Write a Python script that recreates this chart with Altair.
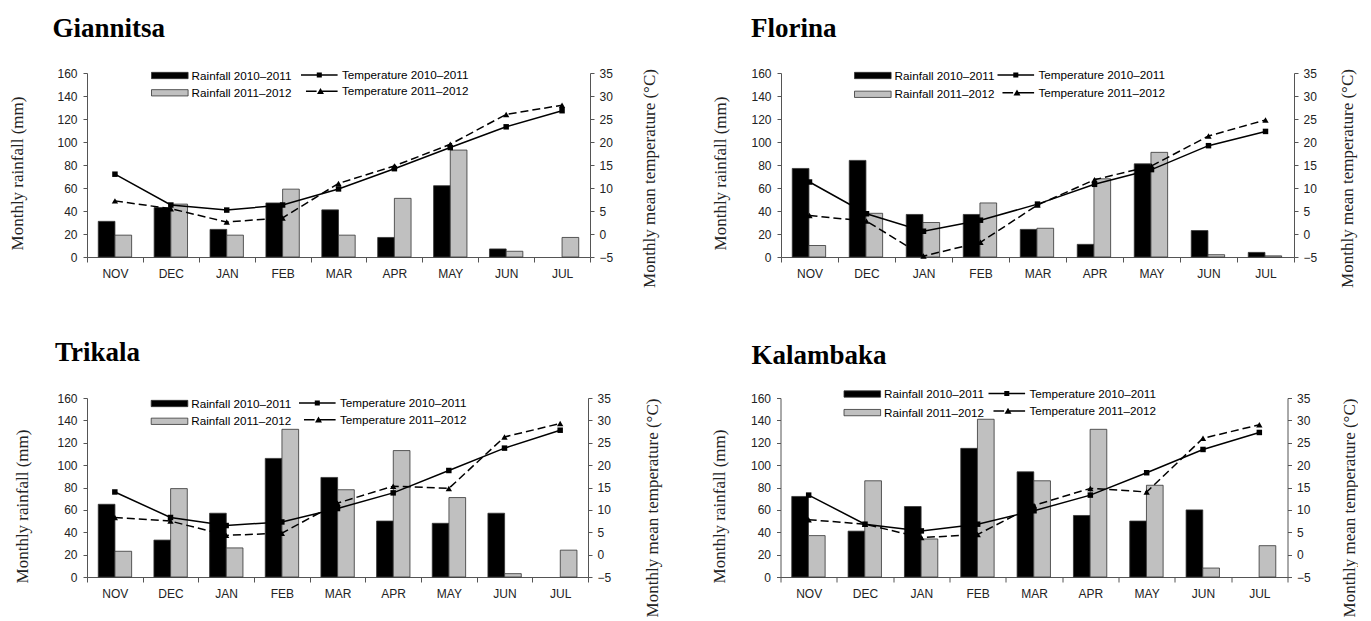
import altair as alt
import pandas as pd

MONTHS = ["NOV", "DEC", "JAN", "FEB", "MAR", "APR", "MAY", "JUN", "JUL"]
RAIN_SERIES = ["Rainfall 2010–2011", "Rainfall 2011–2012"]
TEMP_SERIES = ["Temperature 2010–2011", "Temperature 2011–2012"]

GIANNITSA_RAIN_1011 = [31, 43, 24, 47, 41, 17, 62, 7, 0]
GIANNITSA_RAIN_1112 = [19, 46, 19, 59, 19, 51, 93, 5, 17]
GIANNITSA_TEMP_1011 = [13.0, 6.3, 5.2, 6.3, 9.8, 14.2, 18.8, 23.3, 26.8]
GIANNITSA_TEMP_1112 = [7.2, 5.5, 2.6, 3.5, 11.0, 14.8, 19.5, 26.0, 28.0]

FLORINA_RAIN_1011 = [77, 84, 37, 37, 24, 11, 81, 23, 4]
FLORINA_RAIN_1112 = [10, 38, 30, 47, 25, 68, 91, 2, 1]
FLORINA_TEMP_1011 = [11.3, 4.4, 0.6, 3.0, 6.5, 10.8, 14.0, 19.2, 22.3]
FLORINA_TEMP_1112 = [4.0, 2.8, -4.8, -1.8, 6.3, 11.8, 14.8, 21.3, 24.8]

TRIKALA_RAIN_1011 = [65, 33, 57, 106, 89, 50, 48, 57, 0]
TRIKALA_RAIN_1112 = [23, 79, 26, 132, 78, 113, 71, 3, 24]
TRIKALA_TEMP_1011 = [14.0, 8.3, 6.5, 7.3, 10.3, 13.8, 18.8, 23.8, 27.8]
TRIKALA_TEMP_1112 = [8.3, 7.5, 4.3, 4.8, 11.5, 15.3, 14.8, 26.3, 29.3]

KALAMBAKA_RAIN_1011 = [72, 41, 63, 115, 94, 55, 50, 60, 0]
KALAMBAKA_RAIN_1112 = [37, 86, 34, 141, 86, 132, 82, 8, 28]
KALAMBAKA_TEMP_1011 = [13.3, 6.8, 5.3, 6.8, 9.8, 13.3, 18.3, 23.5, 27.3]
KALAMBAKA_TEMP_1112 = [7.8, 6.8, 3.8, 4.5, 11.0, 14.8, 14.0, 26.0, 29.0]

RAIN_TICKS = [0, 20, 40, 60, 80, 100, 120, 140, 160]
TEMP_TICKS = [-5, 0, 5, 10, 15, 20, 25, 30, 35]

SANS = "Liberation Sans"
SERIF = "Liberation Serif"
LEG_FS = 11.7

# legend symbols (fill-only paths): unit = 6 px (symbolSize 144), drawn 36.6 px wide
SWATCH = "M-1,-0.525H5.1V0.525H-1Z"
SYM_T1 = "M-1,-0.125H5.1V0.125H-1Z M1.63,-0.42H2.47V0.42H1.63Z"
SYM_T2 = ("M-0.17,-0.125H1.6V0.125H-0.17Z M2.25,-0.125H5.1V0.125H2.25Z "
          "M2.25,-0.55L2.83,0.45H1.67Z")


def panel(name, r1, r2, t1, t2, L):
    rain = pd.DataFrame({
        "month": MONTHS * 2,
        "series": [RAIN_SERIES[0]] * len(MONTHS) + [RAIN_SERIES[1]] * len(MONTHS),
        "rain": r1 + r2,
    })
    temp = pd.DataFrame({
        "month": MONTHS * 2,
        "series": [TEMP_SERIES[0]] * len(MONTHS) + [TEMP_SERIES[1]] * len(MONTHS),
        "temp": t1 + t2,
    })

    xaxis = alt.Axis(title=None, labelAngle=0, tickBand="extent", tickSize=5,
                     labelPadding=6, labelFontSize=12, labelFont=SANS, labelColor="#222",
                     grid=False, domainColor="#555", tickColor="#555")
    x = alt.X("month:N", sort=MONTHS,
              scale=alt.Scale(paddingInner=0, paddingOuter=0), axis=xaxis)

    yrain = alt.Y("rain:Q", scale=alt.Scale(domain=[0, 160], nice=False, zero=True),
                  axis=alt.Axis(values=RAIN_TICKS, title="Monthly rainfall (mm)",
                                tickSize=4, labelPadding=6, grid=False,
                                domainColor="#555", tickColor="#555",
                                labelFont=SANS, labelFontSize=12, labelColor="#222",
                                titleFont=SERIF, titleFontSize=17, titleFontWeight="normal",
                                titleColor="#222",
                                titleX=L["ltx"], titleY=L["lty"], titleAngle=270,
                                titleBaseline="bottom", titleAlign="center"))
    bars = alt.Chart(rain).transform_filter("datum.rain > 0").mark_bar(
        stroke="#333", strokeWidth=0.8).encode(
        x=x,
        xOffset=alt.XOffset("series:N", sort=RAIN_SERIES,
                            scale=alt.Scale(domain=RAIN_SERIES, paddingInner=0, paddingOuter=0.675)),
        y=yrain,
        fill=alt.Fill("series:N",
                      scale=alt.Scale(domain=RAIN_SERIES, range=["#000000", "#c0c0c0"]),
                      legend=alt.Legend(title=None, orient="none", legendX=L["rx"], legendY=L["ly"],
                                        direction="vertical", padding=0, rowPadding=L["rp"],
                                        symbolType=SWATCH, symbolSize=144,
                                        symbolStrokeColor="#333", symbolStrokeWidth=0.8,
                                        labelOffset=27.6, labelFont=SANS, labelFontSize=LEG_FS,
                                        labelColor="#000", labelLimit=300)),
    )

    taxis = alt.Axis(orient="right", values=TEMP_TICKS, title="Monthly mean temperature (°C)",
                     tickSize=4, labelPadding=5, grid=False,
                     domainColor="#555", tickColor="#555",
                     labelFont=SANS, labelFontSize=12, labelColor="#222",
                     titleFont=SERIF, titleFontSize=17, titleFontWeight="normal",
                     titleColor="#222",
                     titleX=L["rtx"], titleY=L["rty"], titleAngle=270,
                     titleBaseline="bottom", titleAlign="center")
    ty = alt.Y("temp:Q", scale=alt.Scale(domain=[-5, 35], nice=False, zero=False), axis=taxis)

    base = alt.Chart(temp)
    s1 = base.transform_filter(alt.datum.series == TEMP_SERIES[0])
    s2 = base.transform_filter(alt.datum.series == TEMP_SERIES[1])
    l1 = s1.mark_line(color="black", strokeWidth=1.5).encode(x=x, y=ty)
    l2 = s2.mark_line(color="black", strokeWidth=1.5, strokeDash=[8, 4]).encode(x=x, y=ty)
    p1 = s1.mark_square(color="black", size=30, opacity=1).encode(x=x, y=ty)
    p2 = s2.mark_point(shape="triangle-up", filled=True, color="black", size=40,
                       opacity=1).encode(x=x, y=ty)
    leg = base.transform_filter("datum.temp > 1000").mark_point(
        filled=True, color="black", strokeWidth=0).encode(
        x=x, y=ty,
        shape=alt.Shape("series:N",
                        scale=alt.Scale(domain=TEMP_SERIES, range=[SYM_T1, SYM_T2]),
                        legend=alt.Legend(title=None, orient="none", legendX=L["tx"], legendY=L["ly"],
                                          direction="vertical", padding=0, rowPadding=L["rp"],
                                          symbolSize=144, symbolFillColor="black",
                                          symbolStrokeWidth=0,
                                          symbolOpacity=1, labelOffset=29, labelFont=SANS,
                                          labelFontSize=LEG_FS, labelColor="#000", labelLimit=300)),
    )
    temps = alt.layer(l1, l2, p1, p2, leg)

    return alt.layer(bars, temps).resolve_scale(y="independent").properties(
        width=L["w"], height=L["h"],
        title=alt.TitleParams(text=name, anchor="start", frame="group", dx=L["tdx"],
                              offset=L["toff"], font=SERIF, fontSize=27, fontWeight="bold",
                              color="black", baseline="alphabetic"),
    )


G = panel("Giannitsa", GIANNITSA_RAIN_1011, GIANNITSA_RAIN_1112,
          GIANNITSA_TEMP_1011, GIANNITSA_TEMP_1112,
          dict(w=503, h=184, tdx=-34.5, toff=3.5, ltx=-61, lty=100, rtx=68, rty=105,
               rx=64, tx=214, ly=-4, rp=3.3))
F = panel("Florina", FLORINA_RAIN_1011, FLORINA_RAIN_1112,
          FLORINA_TEMP_1011, FLORINA_TEMP_1112,
          dict(w=513, h=184, tdx=-30, toff=3.5, ltx=-52, lty=100, rtx=62, rty=105,
               rx=73, tx=216.5, ly=-4, rp=4.8))
T = panel("Trikala", TRIKALA_RAIN_1011, TRIKALA_RAIN_1112,
          TRIKALA_TEMP_1011, TRIKALA_TEMP_1112,
          dict(w=501, h=179, tdx=-32, toff=4.5, ltx=-55.5, lty=108, rtx=73, rty=109.5,
               rx=63.7, tx=212, ly=-1, rp=3.8))
K = panel("Kalambaka", KALAMBAKA_RAIN_1011, KALAMBAKA_RAIN_1112,
          KALAMBAKA_TEMP_1011, KALAMBAKA_TEMP_1112,
          dict(w=507, h=179, tdx=-29, toff=-3.5, ltx=-52, lty=108, rtx=71, rty=109.5,
               rx=63, tx=208, ly=-10.5, rp=4.6))

IND_SCALE = dict(x="independent", y="independent", fill="independent", shape="independent")
IND_LEG = dict(fill="independent", shape="independent")

top = alt.hconcat(G, F, spacing=54).resolve_scale(**IND_SCALE).resolve_legend(**IND_LEG)
bottom = alt.hconcat(T, K, spacing=50.5).resolve_scale(**IND_SCALE).resolve_legend(**IND_LEG)

chart = alt.vconcat(top, bottom, spacing=50).resolve_scale(**IND_SCALE).resolve_legend(
    **IND_LEG
).properties(
    padding={"left": 0, "top": 6, "right": 0, "bottom": 0},
).configure_view(stroke=None).configure_axis(
    grid=False, domainColor="#555", tickColor="#555", domainWidth=1, tickWidth=1,
    labelFont=SANS, labelFontSize=12, labelColor="#222",
    titleFont=SERIF, titleFontSize=17, titleFontWeight="normal", titleColor="#222",
)

chart.save("out.html", embed_options={"renderer": "svg", "actions": False})
